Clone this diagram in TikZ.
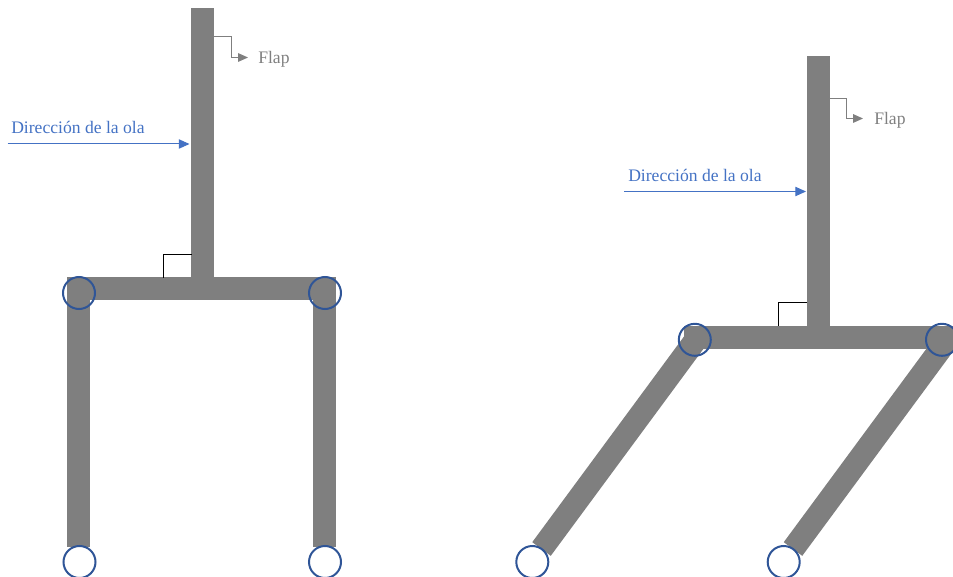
\documentclass[tikz,border=0pt]{standalone}
\usepackage{fontspec}
\setmainfont{Liberation Serif}
\usetikzlibrary{arrows.meta}
\definecolor{bargray}{HTML}{7F7F7F}
\definecolor{wave}{HTML}{4472C4}
\definecolor{joint}{HTML}{2F5597}
\tikzset{
  bar/.style={fill=bargray,draw=none},
  slantbar/.style={draw=bargray,line width=17.25pt,line cap=butt},
  hinge/.style={circle,draw=joint,line width=1.5pt,minimum size=24pt,inner sep=0pt,fill=none},
  wavearrow/.style={draw=wave,line width=0.75pt,-{Triangle[length=8pt,width=7pt]}},
  flaparrow/.style={draw=bargray,line width=0.75pt,-{Triangle[length=7.5pt,width=6.5pt]}},
  square/.style={draw=black,line width=0.75pt},
  wavetext/.style={anchor=base west,inner sep=0pt,text=wave,font=\fontsize{13.2}{15}\selectfont},
  flaptext/.style={anchor=base west,inner sep=0pt,text=bargray,font=\fontsize{13.2}{15}\selectfont}
}
\begin{document}
\begin{tikzpicture}[x=0.75pt,y=-0.75pt]
\useasboundingbox (0,0) rectangle (953,577);
% left figure
\fill[bar] (191.2,8) rectangle (214.2,278);
\fill[bar] (67.2,277.5) rectangle (336.2,300.5);
\fill[bar] (67.2,278) rectangle (90.2,546.5);
\fill[bar] (313.2,278) rectangle (336.2,546.5);
\node[hinge] (a1) at (79,293) {};
\node[hinge] (a2) at (325,293) {};
\node[hinge] (a3) at (79.5,562) {};
\node[hinge] (a4) at (325,562) {};
% right figure
\coordinate (l1t) at (699,335.5);
\coordinate (l1b) at (541.5,549);
\coordinate (l2t) at (950.5,335.5);
\coordinate (l2b) at (793,549);
\draw[slantbar] (l1t) -- (l1b);
\begin{scope}
\clip (0,0) rectangle (953,577);
\draw[slantbar] (l2t) -- (l2b);
\fill[bar] (807,56) rectangle (830,327);
\fill[bar] (684,326) rectangle (953,349);
\end{scope}
\node[hinge] (b1) at (694.8,339.8) {};
\node[hinge] (b2) at (942,339.8) {};
\node[hinge] (b3) at (532.3,562) {};
\node[hinge] (b4) at (783.7,562) {};
% left annotations
\node[wavetext] (ta) at (11,134) {Dirección de la ola};
\node[flaptext] (fa) at (258,63.5) {Flap};
\coordinate (wa0) at (7.5,144);
\coordinate (wa1) at (189.5,144);
\draw[wavearrow] (wa0) -- (wa1);
\coordinate (fa0) at (214.2,37);
\coordinate (fa1) at (231,37);
\coordinate (fa2) at (231,57.5);
\coordinate (fa3) at (248,57.5);
\draw[flaparrow] (fa0) -- (fa1) -- (fa2) -- (fa3);
\coordinate (sa0) at (163.5,278);
\coordinate (sa1) at (163.5,254.5);
\coordinate (sa2) at (191.5,254.5);
\draw[square] (sa0) -- (sa1) -- (sa2);
% right annotations
\node[wavetext] (tb) at (628,182) {Dirección de la ola};
\node[flaptext] (fb) at (874,125) {Flap};
\coordinate (wb0) at (624,191.5);
\coordinate (wb1) at (806,191.5);
\draw[wavearrow] (wb0) -- (wb1);
\coordinate (fb0) at (830,98.5);
\coordinate (fb1) at (846.5,98.5);
\coordinate (fb2) at (846.5,118.5);
\coordinate (fb3) at (863,118.5);
\draw[flaparrow] (fb0) -- (fb1) -- (fb2) -- (fb3);
\coordinate (sb0) at (778,326);
\coordinate (sb1) at (778,303);
\coordinate (sb2) at (807,303);
\draw[square] (sb0) -- (sb1) -- (sb2);
\end{tikzpicture}
\end{document}
